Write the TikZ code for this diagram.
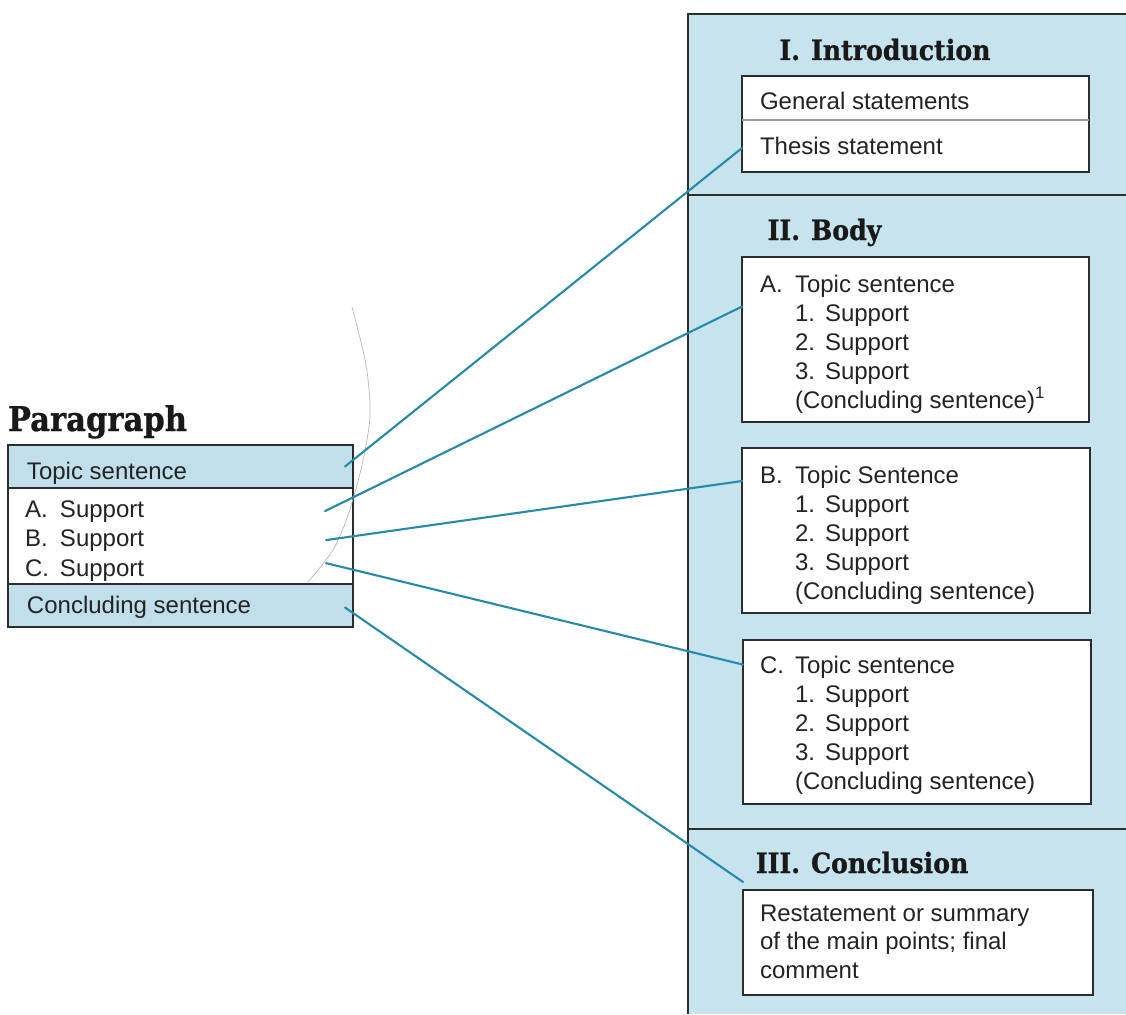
\documentclass[tikz,border=0pt]{standalone}
\usepackage{fontspec}
\setmainfont{Liberation Sans}
\newfontfamily\hdrfont[FakeStretch=0.9, BoldFeatures={FakeBold=0.8}]{DejaVu Serif}
\usetikzlibrary{calc}
\definecolor{panelblue}{RGB}{198,227,238}
\definecolor{rowblue}{RGB}{192,223,234}
\definecolor{linkteal}{RGB}{38,138,172}
\definecolor{framegray}{RGB}{45,45,45}
\definecolor{inkgray}{RGB}{35,35,35}

\begin{document}
\begin{tikzpicture}[x=1pt,y=-1pt,
  every node/.style={inner sep=0pt, outer sep=0pt},
  % multi-line text nodes are placed by the baseline of their last line
  txt/.style={font=\fontsize{24}{29}\selectfont, text=inkgray, align=left, anchor=base west},
  ptxt/.style={font=\fontsize{24}{29}\selectfont, text=inkgray, align=left, anchor=base west},
  hdr/.style={font=\hdrfont\bfseries\fontsize{28}{30}\selectfont, text=black!90},
  wbox/.style={draw=framegray, line width=1.3pt, fill=white, anchor=north west},
  prow/.style={draw=framegray, line width=1.5pt, anchor=north west, minimum width=345},
  link/.style={draw=linkteal, line width=2.1pt, line cap=round},
]
\useasboundingbox (0,0) rectangle (1126,1014);
\fill[white] (0,0) rectangle (1126,1014);

% ---------- essay panel ----------
\fill[panelblue] (688,14) rectangle (1126,1014);
\draw[framegray, line width=2pt] (688,1014) -- (688,14) -- (1126,14);
\draw[framegray, line width=2pt] (688,195) -- (1126,195);
\draw[framegray, line width=2pt] (688,829) -- (1126,829);

% section headings (numerals right-aligned on the period)
\node[hdr, anchor=base east] (introNum) at (800,60) {I.};
\node[hdr, anchor=base west] (introHead) at (811,60) {Introduction};
\node[hdr, anchor=base east] (bodyNum) at (800,240) {II.};
\node[hdr, anchor=base west] (bodyHead) at (811,240) {Body};
\node[hdr, anchor=base east] (concNum) at (800,873) {III.};
\node[hdr, anchor=base west] (concHead) at (811,873) {Conclusion};

% introduction box
\node[wbox, minimum width=347, minimum height=96] (introbox) at (742,76) {};
\node[anchor=north west, minimum width=347, minimum height=44] (general) at (742,76) {};
\node[anchor=north west, minimum width=347, minimum height=52] (thesis) at (742,120) {};
\draw[gray!75, line width=1.4pt] (general.south west) -- (general.south east);
\node[txt] (generalTxt) at (760,110) {General statements};
\node[txt] (thesisTxt) at (760,154) {Thesis statement};

% body boxes
\node[wbox, minimum width=347, minimum height=165] (boxa) at (742,257) {};
\node[txt] (aTxt) at (760,408) {\makebox[35pt][l]{A.}Topic sentence\\
  \hspace*{35pt}\makebox[30pt][l]{1.}Support\\
  \hspace*{35pt}\makebox[30pt][l]{2.}Support\\
  \hspace*{35pt}\makebox[30pt][l]{3.}Support\\
  \hspace*{35pt}(Concluding sentence)\textsuperscript{1}};

\node[wbox, minimum width=348, minimum height=165] (boxb) at (742,448) {};
\node[txt] (bTxt) at (760,599) {\makebox[35pt][l]{B.}Topic Sentence\\
  \hspace*{35pt}\makebox[30pt][l]{1.}Support\\
  \hspace*{35pt}\makebox[30pt][l]{2.}Support\\
  \hspace*{35pt}\makebox[30pt][l]{3.}Support\\
  \hspace*{35pt}(Concluding sentence)};

\node[wbox, minimum width=348, minimum height=164] (boxc) at (743,640) {};
\node[txt] (cTxt) at (760,789) {\makebox[35pt][l]{C.}Topic sentence\\
  \hspace*{35pt}\makebox[30pt][l]{1.}Support\\
  \hspace*{35pt}\makebox[30pt][l]{2.}Support\\
  \hspace*{35pt}\makebox[30pt][l]{3.}Support\\
  \hspace*{35pt}(Concluding sentence)};

% conclusion box
\node[wbox, minimum width=350, minimum height=105] (conc) at (743,890) {};
\node[txt, font=\fontsize{24}{28.5}\selectfont] (concTxt) at (760,978) {Restatement or summary\\
  of the main points; final\\ comment};

% ---------- paragraph outline ----------
\node[font=\hdrfont\bfseries\fontsize{34}{36}\selectfont, text=black!90, anchor=base west] (paraTitle) at (8,431) {Paragraph};
\node[prow, fill=rowblue, minimum height=43] (ptopic) at (8,445) {};
\node[prow, fill=white, minimum height=96] (pmid) at (8,488) {};
\node[prow, fill=rowblue, minimum height=43] (pconc) at (8,584) {};
\node[ptxt] (ptopicTxt) at (27,479) {Topic sentence};
\node[ptxt, text width=300pt] (pa) at (25,517) {\makebox[35pt][l]{A.}Support};
\node[ptxt, text width=301pt] (pb) at (25,546) {\makebox[35pt][l]{B.}Support};
\node[ptxt, text width=301pt] (pc) at (25,576) {\makebox[35pt][l]{C.}Support};
\node[ptxt] (pconcTxt) at (27,613) {Concluding sentence};

% faint pencil stroke across the page
\draw[gray!55, line width=0.7pt] plot[smooth] coordinates
  {(352,307) (366,365) (370,415) (362,465) (348,515) (333,550) (308,582)};

% ---------- connectors ----------
\draw[link] ($(ptopic.east)+(-8,0)$) -- ($(thesis.west)+(0,2)$);
\draw[link] (pa.east) -- ($(boxa.north west)!0.3!(boxa.south west)$);
\draw[link] (pb.east) -- ($(boxb.north west)!0.2!(boxb.south west)$);
\draw[link] ($(pc.east)+(0,-7)$) -- ($(boxc.north west)!0.15!(boxc.south west)$);
\draw[link] ($(pconc.east)+(-8,2)$) -- ($(conc.north west)+(0,-8)$);
\end{tikzpicture}
\end{document}
